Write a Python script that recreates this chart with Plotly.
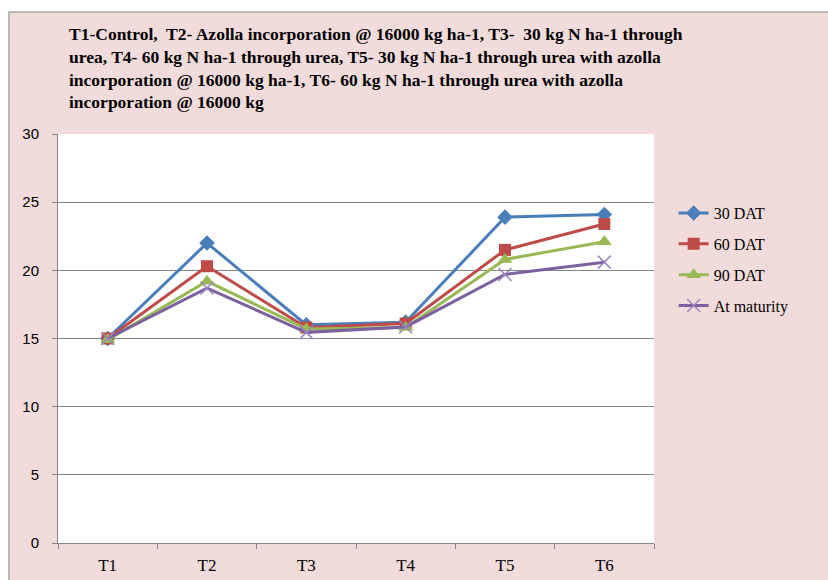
import plotly.graph_objects as go

# Treatments and plant height readings at each stage
treatments = ["T1", "T2", "T3", "T4", "T5", "T6"]
dat30 = [15.0, 22.0, 16.0, 16.2, 23.9, 24.1]
dat60 = [15.0, 20.3, 15.8, 16.1, 21.5, 23.4]
dat90 = [14.9, 19.2, 15.7, 15.8, 20.8, 22.1]
maturity = [15.0, 18.7, 15.45, 15.85, 19.7, 20.6]

series_names = ["30 DAT", "60 DAT", "90 DAT", "At maturity"]
y_ticks = [0, 5, 10, 15, 20, 25, 30]

title_lines = [
    "T1-Control,  T2- Azolla incorporation @ 16000 kg ha-1, T3-  30 kg N ha-1 through",
    "urea, T4- 60 kg N ha-1 through urea, T5- 30 kg N ha-1 through urea with azolla",
    "incorporation @ 16000 kg ha-1, T6- 60 kg N ha-1 through urea with azolla",
    "incorporation @ 16000 kg",
]

PINK = "#F2DCDB"
SERIF = "Liberation Serif"

styles = [
    dict(color="#4A7EBB", symbol="diamond", size=12),
    dict(color="#BE4B48", symbol="square", size=12),
    dict(color="#98B954", symbol="triangle-up", size=13),
    dict(color="#7D60A0", symbol="x-thin", size=13),
]

fig = go.Figure()
for name, vals, st in zip(series_names, [dat30, dat60, dat90, maturity], styles):
    marker = dict(symbol=st["symbol"], size=st["size"], color=st["color"])
    if st["symbol"] == "x-thin":
        marker["line"] = dict(color="#9C85C0", width=1.5)
    fig.add_trace(go.Scatter(
        x=treatments, y=vals, name=name, mode="lines+markers",
        line=dict(color=st["color"], width=3),
        marker=marker, legendgroup=name,
    ))

# Chart frame: pink panel with a grey border, white plotting area on top
fig.add_shape(type="rect", xref="paper", yref="paper",
              x0=-0.0822, x1=1.32, y0=-0.12, y1=1.2983,
              fillcolor=PINK, line=dict(color="#A6A6A6", width=1.5), layer="below")
fig.add_shape(type="rect", xref="paper", yref="paper",
              x0=0, x1=1, y0=0, y1=1,
              fillcolor="white", line=dict(width=0), layer="below")

line_y = [34, 57, 80, 102]
for txt, py in zip(title_lines, line_y):
    fig.add_annotation(
        text="<b>" + txt + "</b>", xref="paper", yref="paper",
        x=(67 - 58) / 596, y=(543 - py) / 409, xanchor="left", yanchor="middle",
        showarrow=False, font=dict(family=SERIF, size=17.5, color="black"),
    )

fig.update_layout(
    width=828, height=580,
    margin=dict(l=58, r=174, t=134, b=37, autoexpand=False),
    paper_bgcolor="white", plot_bgcolor="white",
    showlegend=True,
    legend=dict(
        x=1.033, y=0.848, xanchor="left", yanchor="top",
        bgcolor="rgba(0,0,0,0)", font=dict(family=SERIF, size=16, color="black"),
        tracegroupgap=7,
    ),
    xaxis=dict(
        range=[-0.5, 5.5], showgrid=False, showline=True, linecolor="#868686",
        linewidth=1, ticks="outside", tickson="boundaries", ticklen=5,
        tickcolor="#868686", tickfont=dict(family=SERIF, size=17, color="black"),
        ticklabelstandoff=7, automargin=False,
    ),
    yaxis=dict(
        range=[0, 30], tickvals=y_ticks, showgrid=True, gridcolor="#868686",
        gridwidth=1, showline=True, linecolor="#868686", linewidth=1,
        ticks="outside", ticklen=5, tickcolor="#868686", zeroline=False,
        tickfont=dict(family="Liberation Sans", size=15, color="black"),
        ticklabelstandoff=10, automargin=False,
    ),
)

fig.write_html("out.html")
